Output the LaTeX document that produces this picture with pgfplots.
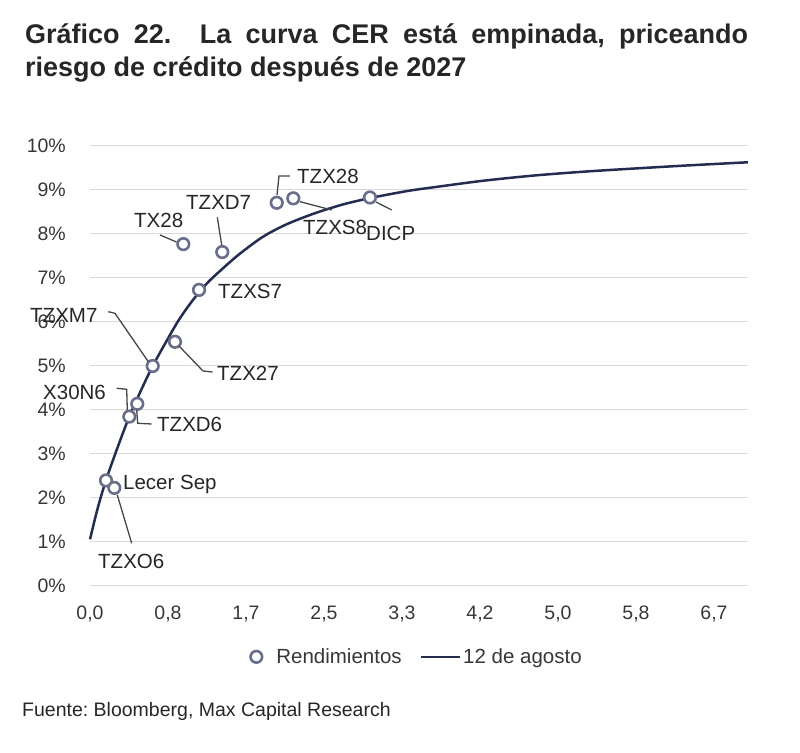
\documentclass[border=0pt]{standalone}
\usepackage{pgfplots}
\pgfplotsset{compat=1.18}
\usepackage{fontspec}
\setmainfont{Liberation Sans}
\frenchspacing
\definecolor{navy}{RGB}{35,45,80}
\definecolor{markgray}{RGB}{105,110,138}
\definecolor{gridgray}{RGB}{217,217,217}
\definecolor{textgray}{RGB}{38,38,38}
\definecolor{tickgray}{RGB}{55,55,55}
\definecolor{leadgray}{RGB}{70,70,70}
\pgfplotsset{
  longline/.style={legend image code/.code={\draw[##1] (0pt,0pt) -- (39pt,0pt);}},
  markleg/.style={legend image code/.code={\path[draw=none,fill=none] (0pt,-1pt) rectangle (24pt,1pt); \draw[##1] plot coordinates {(6pt,0pt)};}},
  mkstyle/.style={only marks, mark=*, mark size=5.8pt, mark options={draw=markgray, line width=2.6pt, fill=white}},
}
\begin{document}
\begin{tikzpicture}[x=1pt,y=1pt]
\path[use as bounding box] (0,0) rectangle (800,752);
\begin{axis}[
  at={(90pt,166pt)}, anchor=south west,
  x=93.6pt, y=44pt,
  xmin=0, xmax=7.03, ymin=0, ymax=10,
  axis line style={draw=none},
  tick style={draw=none},
  ymajorgrids,
  grid style={gridgray, line width=1pt},
  ytick={0,1,2,3,4,5,6,7,8,9,10},
  yticklabels={0\%,1\%,2\%,3\%,4\%,5\%,6\%,7\%,8\%,9\%,10\%},
  xtick={0,0.83333,1.66667,2.5,3.33333,4.16667,5,5.83333,6.66667},
  xticklabels={{0,0},{0,8},{1,7},{2,5},{3,3},{4,2},{5,0},{5,8},{6,7}},
  tick label style={font=\fontsize{19.5}{21}\selectfont, text=tickgray, inner sep=0pt},
  yticklabel style={anchor=east, xshift=-24pt},
  xticklabel style={anchor=north, yshift=-20pt},
  clip=false,
  legend columns=2,
  legend style={at={(0.497,-0.161)}, anchor=center, draw=none, fill=none,
    font=\fontsize{20.5}{22}\selectfont, text=tickgray,
    /tikz/every even column/.append style={column sep=16pt}},
]
\addlegendimage{mkstyle, markleg}
\addlegendentry{Rendimientos}
\addlegendimage{navy, line width=2.5pt, longline}
\addlegendentry{12 de agosto}

\addplot[navy, line width=2.5pt, smooth, tension=0.5, forget plot] coordinates {
(0.00,1.06) (0.08,1.75) (0.17,2.40) (0.30,3.18) (0.42,3.85) (0.55,4.47)
(0.67,5.00) (0.80,5.50) (0.95,6.05) (1.10,6.50) (1.25,6.88) (1.41,7.20)
(1.60,7.55) (1.85,7.94) (2.10,8.22) (2.40,8.47) (2.70,8.67) (3.00,8.82)
(3.40,8.98) (3.70,9.07) (4.20,9.21) (4.75,9.33) (5.30,9.42) (5.83,9.49)
(6.40,9.56) (7.03,9.63)};

\addplot[mkstyle, forget plot] coordinates {
(0.171,2.40) (0.260,2.23) (0.420,3.85) (0.505,4.14) (0.670,5.00) (0.908,5.55)
(1.165,6.73) (0.997,7.77) (1.413,7.59) (1.995,8.71) (2.172,8.81) (2.991,8.83)};
\end{axis}

% title and source
\node[anchor=base west, inner sep=0pt, text=textgray, font=\bfseries\fontsize{27}{33}\selectfont] at (25,708.7)
  {\makebox[723pt][s]{Gráfico 22.\ \ La curva CER está empinada, priceando}};
\node[anchor=base west, inner sep=0pt, text=textgray, font=\bfseries\fontsize{27}{33}\selectfont] at (25,675.3)
  {riesgo de crédito después de 2027};
\node[anchor=base west, inner sep=0pt, text=textgray, font=\fontsize{19.5}{21}\selectfont] at (22,36)
  {Fuente: Bloomberg, Max Capital Research};

% data labels and leader lines (pixel coordinates, y downwards)
\begin{scope}[shift={(0,752)}, yscale=-1]
\tikzset{lab/.style={anchor=west, inner sep=0pt, text height=14.5pt, text depth=0pt, text=textgray, font=\fontsize{20.5}{22}\selectfont},
         ld/.style={draw=leadgray, line width=1.3pt}}
\draw[ld] (277,195) -- (279,176) -- (290,176);
\draw[ld] (300,201.7) -- (331.7,210);
\draw[ld] (376,202) -- (391.7,210);
\draw[ld] (217.3,217.3) -- (221.7,245);
\draw[ld] (160,235) -- (176.5,242);
\draw[ld] (108.3,311.7) -- (115,313.3) -- (148.3,361.7);
\draw[ld] (179,346) -- (203,371) -- (212.5,372);
\draw[ld] (116.7,388.3) -- (126.7,389.3) -- (127.3,410);
\draw[ld] (136.7,410) -- (137.7,423.3) -- (151.7,424);
\draw[ld] (117.3,495) -- (131.7,543.3);
\node[lab] at (297,176) {TZX28};
\node[lab] at (303,227) {TZXS8};
\node[lab] at (366,233) {DICP};
\node[lab] at (186,202) {TZXD7};
\node[lab] at (134,220) {TX28};
\node[lab] at (218,291) {TZXS7};
\node[lab] at (30,315) {TZXM7};
\node[lab] at (217,373) {TZX27};
\node[lab] at (43,392) {X30N6};
\node[lab] at (157,424) {TZXD6};
\node[lab] at (123,482.5) {Lecer Sep};
\node[lab] at (98,561.5) {TZXO6};
\end{scope}
\end{tikzpicture}
\end{document}
